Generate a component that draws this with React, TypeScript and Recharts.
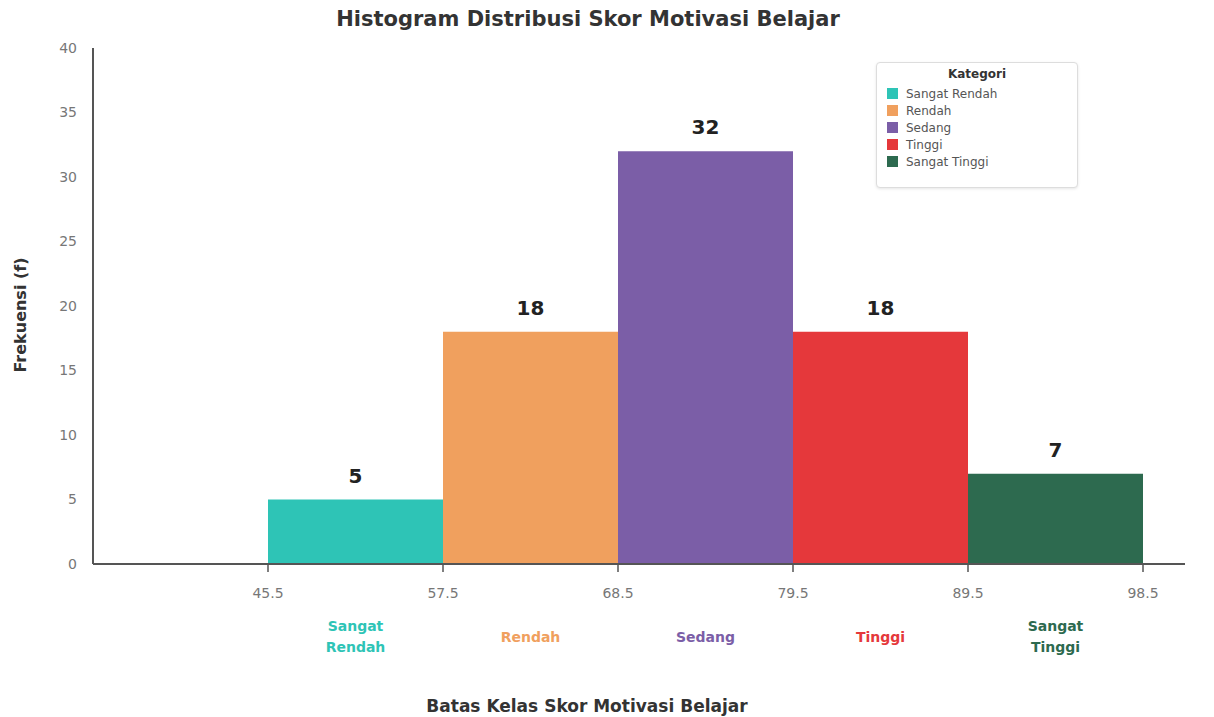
import React from "react";
import { ComposedChart, Bar, XAxis, YAxis, LabelList, Cell, Label } from "recharts";

const categories = ["Sangat Rendah", "Rendah", "Sedang", "Tinggi", "Sangat Tinggi"];
const frequencies = [5, 18, 32, 18, 7];
const boundaries = ["45.5", "57.5", "68.5", "79.5", "89.5", "98.5"];
const colors = ["#2EC4B6", "#F0A05E", "#7B5EA7", "#E5383B", "#2D6A4F"];
const yTicks = [0, 5, 10, 15, 20, 25, 30, 35, 40];

const data = categories.map((c, i) => ({ pos: i + 0.5, f: frequencies[i], name: c }));
const xTicks: number[] = [];
for (let i = 0; i < boundaries.length; i++) {
  xTicks.push(i);
  if (i < categories.length) xTicks.push(i + 0.5);
}

const FONT = "'DejaVu Sans', Verdana, sans-serif";

const XTick = (props: any) => {
  const { x, y, payload } = props;
  const v = payload.value as number;
  if (Number.isInteger(v)) {
    return (
      <g>
        <line x1={x} x2={x} y1={y} y2={y + 8} stroke="#555" strokeWidth={1.5} />
        <text x={x} y={y + 34} textAnchor="middle" fill="#777" fontSize={14} fontFamily={FONT}>
          {boundaries[v]}
        </text>
      </g>
    );
  }
  const idx = Math.floor(v);
  const words = categories[idx].split(" ");
  const lineH = 21;
  const startY = y + 77.5 - ((words.length - 1) * lineH) / 2;
  return (
    <text textAnchor="middle" fill={colors[idx]} fontSize={14} fontWeight="bold" fontFamily={FONT}>
      {words.map((w, k) => (
        <tspan key={k} x={x} y={startY + k * lineH}>
          {w}
        </tspan>
      ))}
    </text>
  );
};

const YLabel = (props: any) => {
  const vb = props.viewBox || {};
  const cx = 12;
  const cy = (vb.y || 0) + (vb.height || 0) / 2 + 9;
  return (
    <text
      x={cx}
      y={cy}
      transform={`rotate(-90, ${cx}, ${cy})`}
      textAnchor="middle"
      dominantBaseline="central"
      fontFamily={FONT}
      fontWeight="bold"
      fontSize={16}
      fill="#333"
    >
      Frekuensi (f)
    </text>
  );
};

const XLabel = () => (
  <text x={579} y={704} textAnchor="middle" fontFamily={FONT} fontWeight="bold" fontSize={17} fill="#333">
    Batas Kelas Skor Motivasi Belajar
  </text>
);

const LegendBox = () => (
  <div
    style={{
      position: "absolute",
      left: 868,
      top: 54,
      width: 202,
      height: 126,
      border: "1px solid #ddd",
      borderRadius: 4,
      background: "#fff",
      boxShadow: "0 1px 3px rgba(0,0,0,0.1)",
      fontFamily: FONT,
      boxSizing: "border-box",
      padding: "4px 10px",
      zIndex: 2,
    }}
  >
    <div style={{ textAlign: "center", fontWeight: "bold", fontSize: 12, color: "#333", marginBottom: 4 }}>Kategori</div>
    {categories.map((c, i) => (
      <div key={c} style={{ display: "flex", alignItems: "center", height: 17 }}>
        <span style={{ width: 11, height: 11, background: colors[i], display: "inline-block", marginRight: 8 }} />
        <span style={{ fontSize: 12, color: "#555" }}>{c}</span>
      </div>
    ))}
  </div>
);

export default function App() {
  return (
    <div style={{ position: "relative", width: 1206, height: 709 }}>
      <div
        style={{
          position: "absolute",
          left: 580,
          top: -1,
          transform: "translateX(-50%)",
          whiteSpace: "nowrap",
          fontFamily: FONT,
          fontWeight: "bold",
          fontSize: 21,
          color: "#333",
          zIndex: 2,
        }}
      >
        Histogram Distribusi Skor Motivasi Belajar
      </div>
      <LegendBox />
      <ComposedChart
        width={1206}
        height={709}
        data={data}
        margin={{ top: 40, right: 29, bottom: 0, left: 0 }}
        barCategoryGap={0}
        barGap={0}
      >
        <XAxis
          dataKey="pos"
          type="number"
          domain={[-1, 5.24]}
          allowDataOverflow
          ticks={xTicks}
          interval={0}
          tick={<XTick />}
          tickLine={false}
          tickSize={0}
          tickMargin={0}
          axisLine={{ stroke: "#555", strokeWidth: 2 }}
          height={153}
        >
          <Label content={<XLabel />} />
        </XAxis>
        <YAxis
          type="number"
          domain={[0, 40]}
          ticks={yTicks}
          interval={0}
          width={85}
          tickLine={false}
          tickMargin={10}
          axisLine={{ stroke: "#555", strokeWidth: 2 }}
          tick={{ fill: "#777", fontSize: 14, fontFamily: FONT }}
        >
          <Label content={<YLabel />} />
        </YAxis>
        <Bar dataKey="f" isAnimationActive={false}>
          {data.map((d, i) => (
            <Cell key={d.name} fill={colors[i]} />
          ))}
          <LabelList
            dataKey="f"
            position="top"
            offset={17}
            style={{ fontFamily: FONT, fontWeight: "bold", fontSize: 20, fill: "#222" }}
          />
        </Bar>
      </ComposedChart>
    </div>
  );
}
